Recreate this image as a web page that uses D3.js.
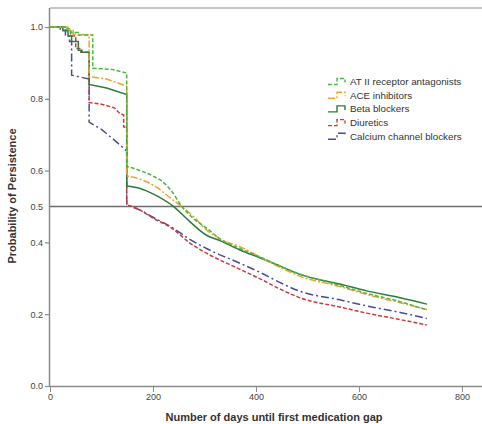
<!DOCTYPE html>
<html><head><meta charset="utf-8">
<script src="https://cdn.jsdelivr.net/npm/d3@7"></script>
<style>body{margin:0;background:#fff}svg{display:block}</style>
</head><body><svg id="c" width="482" height="424"></svg>
<script>
const seriesNames = ["AT II receptor antagonists","ACE inhibitors","Beta blockers","Diuretics","Calcium channel blockers"];
const seriesColors = ["#49b845","#f0a331","#2f7a3c","#cc3a3a","#4a4c98"];
const seriesDash = ["4,2","7,2,2,2","","4,2","8,3,2,3"];
const xTicks = [0,200,400,600,800];
const yTicks = [0,0.2,0.4,0.5,0.6,0.8,1.0];
const refLine = 0.5;

const atII = [[0,1.0],[30,1.0],[30,0.995],[40,0.995],[40,0.985],[55,0.985],[55,0.978],[83,0.978],[83,0.885],[120,0.882],[149,0.872],[149,0.612],[175,0.600],[200,0.585],[214,0.574],[235,0.545],[256,0.50],[280,0.465],[304,0.44],[330,0.41],[369,0.383],[410,0.358],[447,0.334],[485,0.312],[520,0.297],[563,0.280],[615,0.258],[680,0.235],[732,0.212]];
const ace = [[0,1.0],[35,1.0],[35,0.99],[45,0.99],[45,0.98],[76,0.978],[76,0.862],[110,0.855],[140,0.84],[149,0.835],[149,0.585],[175,0.576],[200,0.56],[239,0.518],[256,0.50],[280,0.47],[304,0.435],[330,0.41],[369,0.388],[410,0.358],[447,0.330],[485,0.306],[563,0.277],[615,0.255],[680,0.232],[732,0.213]];
const beta = [[0,1.0],[25,1.0],[25,0.99],[35,0.99],[35,0.975],[42,0.975],[42,0.96],[55,0.96],[55,0.935],[62,0.935],[62,0.93],[76,0.93],[76,0.84],[110,0.83],[149,0.812],[149,0.557],[175,0.55],[200,0.535],[239,0.501],[270,0.46],[304,0.42],[330,0.405],[369,0.379],[410,0.356],[447,0.334],[485,0.311],[563,0.284],[615,0.265],[680,0.246],[732,0.228]];
const diur = [[0,1.0],[30,1.0],[30,0.99],[40,0.99],[40,0.975],[50,0.975],[50,0.94],[60,0.94],[60,0.93],[76,0.93],[76,0.79],[100,0.785],[125,0.775],[135,0.76],[143,0.755],[143,0.722],[149,0.72],[149,0.505],[175,0.49],[200,0.468],[239,0.437],[270,0.40],[304,0.37],[369,0.325],[410,0.297],[447,0.27],[485,0.246],[563,0.22],[615,0.203],[680,0.185],[732,0.170]];
const ccb = [[0,1.0],[20,1.0],[20,0.99],[30,0.99],[30,0.975],[38,0.975],[38,0.96],[42,0.96],[42,0.866],[76,0.855],[76,0.735],[100,0.715],[125,0.685],[149,0.655],[149,0.504],[175,0.49],[200,0.47],[239,0.44],[270,0.41],[304,0.383],[369,0.342],[410,0.315],[447,0.288],[485,0.264],[563,0.24],[615,0.223],[680,0.205],[732,0.188]];
const allSeries = [atII, ace, beta, diur, ccb];
const smoothFrom = 149; // day after which curve is drawn smoothly

const svg = d3.select("#c");
const x = d3.scaleLinear().domain([0,839]).range([50,482]);
const y = d3.scaleLinear().domain([0,1.053]).range([386,8]);
const axisCol = "#8a8a8a", textCol = "#444";
const font = "Liberation Sans, Arial, sans-serif";

// frame top
svg.append("line").attr("x1",x(0)).attr("x2",482).attr("y1",y(1.053)).attr("y2",y(1.053))
  .attr("stroke","#b5b5b5").attr("stroke-width",1.5);

// x axis
const gx = svg.append("g").attr("transform",`translate(0,${y(0)})`)
  .call(d3.axisBottom(x).tickValues(xTicks).tickFormat(d3.format("d")).tickSize(6).tickSizeOuter(0));
gx.select(".domain").attr("stroke",axisCol).attr("stroke-width",1.5).attr("d",`M${x(0)},0.5H482`);
gx.selectAll(".tick line").attr("stroke",axisCol);
gx.selectAll(".tick text").attr("fill",textCol).attr("font-family",font).attr("font-size",9).attr("dy","0.6em");

// y axis
const gy = svg.append("g").attr("transform",`translate(${x(0)},0)`)
  .call(d3.axisLeft(y).tickValues(yTicks).tickFormat(d3.format(".1f")).tickSize(5).tickSizeOuter(0));
gy.select(".domain").attr("stroke",axisCol).attr("stroke-width",1.5).attr("d",`M-0.5,${y(0)}V${y(1.053)}`);
gy.selectAll(".tick line").attr("stroke",axisCol).attr("stroke-width",1.2).attr("opacity",d=>d===refLine?0:1);
gy.selectAll(".tick text").attr("fill",textCol).attr("font-family",font).attr("font-size",9).attr("x",-7);

// reference line
svg.append("line").attr("x1",x(0)).attr("x2",482).attr("y1",y(refLine)).attr("y2",y(refLine))
  .attr("stroke","#6e6e6e").attr("stroke-width",1.5);

// curves: steps linear, tail smooth
const lineStep = d3.line().x(d=>x(d[0])).y(d=>y(d[1]));
const lineSmooth = d3.line().x(d=>x(d[0])).y(d=>y(d[1])).curve(d3.curveMonotoneX);
function pathFor(data){
  let k = 0;
  data.forEach((d,i)=>{ if(d[0]<=smoothFrom) k=i; });
  const early = data.slice(0,k+1), late = data.slice(k);
  return lineStep(early) + lineSmooth(late).replace(/^M/,"L");
}
const order = [4,3,2,1,0];
order.forEach(i=>{
  svg.append("path").attr("d",pathFor(allSeries[i])).attr("fill","none")
    .attr("stroke",seriesColors[i]).attr("stroke-width",1.5)
    .attr("stroke-dasharray",seriesDash[i]||null);
});

// legend
const lg = svg.append("g");
seriesNames.forEach((n,i)=>{
  const yy = 81.5 + i*13.7;
  lg.append("path").attr("d",`M328,${yy+3}H337V${yy-3}H345V${yy+1}`).attr("fill","none")
    .attr("stroke",seriesColors[i]).attr("stroke-width",1.4).attr("stroke-dasharray",seriesDash[i]||null);
  lg.append("text").attr("x",350).attr("y",yy).attr("dy","0.35em").text(n)
    .attr("font-family",font).attr("font-size",9.8).attr("fill","#333");
});

// axis titles
svg.append("text").attr("transform",`translate(16,196) rotate(-90)`).attr("text-anchor","middle")
  .attr("font-family",font).attr("font-weight","bold").attr("font-size",11).attr("fill","#333")
  .text("Probability of Persistence");
svg.append("text").attr("x",274).attr("y",421).attr("text-anchor","middle")
  .attr("font-family",font).attr("font-weight","bold").attr("font-size",11).attr("fill","#333")
  .text("Number of days until first medication gap");
</script></body></html>
